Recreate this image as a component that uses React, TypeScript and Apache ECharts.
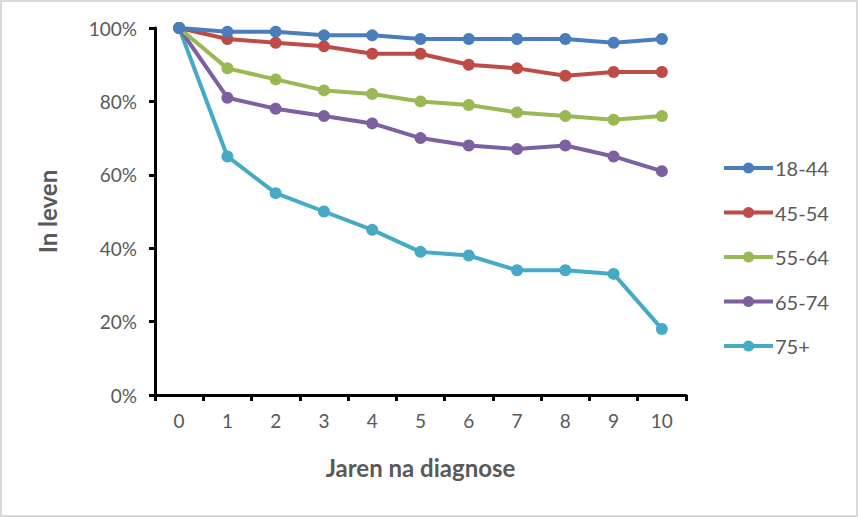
import React, { useEffect, useRef } from "react";
import * as echarts from "echarts";

const years = ["0", "1", "2", "3", "4", "5", "6", "7", "8", "9", "10"];
const seriesNames = ["18-44", "45-54", "55-64", "65-74", "75+"];
const s1844 = [100, 99, 99, 98, 98, 97, 97, 97, 97, 96, 97];
const s4554 = [100, 97, 96, 95, 93, 93, 90, 89, 87, 88, 88];
const s5564 = [100, 89, 86, 83, 82, 80, 79, 77, 76, 75, 76];
const s6574 = [100, 81, 78, 76, 74, 70, 68, 67, 68, 65, 61];
const s75 = [100, 65, 55, 50, 45, 39, 38, 34, 34, 33, 18];
const colors = ["#4A7EBB", "#BE4B48", "#98B954", "#7D60A0", "#46AAC5"];
const yTicks = [0, 20, 40, 60, 80, 100];

export default function App() {
  const ref = useRef<HTMLDivElement>(null);
  useEffect(() => {
    if (!ref.current) return;
    const chart = echarts.init(ref.current, undefined, { renderer: "svg" });
    const font = "Lato, 'Open Sans', sans-serif";
    const allData = [s1844, s4554, s5564, s6574, s75];
    chart.setOption({
      animation: false,
      backgroundColor: "#ffffff",
      textStyle: { fontFamily: font },
      graphic: [
        {
          type: "rect",
          shape: { x: 1, y: 1, width: 856, height: 515 },
          style: { fill: "none", stroke: "#d9d9d9", lineWidth: 2 },
          silent: true,
        },
      ],
      grid: { left: 155, top: 28, right: 172, bottom: 122 },
      legend: {
        orient: "vertical",
        left: 717,
        top: 153,
        itemWidth: 49,
        itemHeight: 14,
        itemGap: 24.5,
        lineStyle: { width: 4 },
        textStyle: { fontSize: 20, color: "#595959", fontFamily: font, padding: [0, 0, 0, -3] },
        data: seriesNames,
      },
      xAxis: {
        type: "category",
        data: years,
        boundaryGap: true,
        name: "Jaren na diagnose",
        nameLocation: "middle",
        nameGap: 60,
        nameTextStyle: { fontSize: 24, fontWeight: "bold", color: "#595959", fontFamily: font },
        axisLine: { lineStyle: { color: "#000000", width: 3 } },
        axisTick: { show: true, interval: 0, length: 6, lineStyle: { color: "#000000", width: 3 } },
        axisLabel: { fontSize: 19, color: "#595959", margin: 16, fontFamily: font },
        splitLine: { show: false },
      },
      yAxis: {
        type: "value",
        min: 0,
        max: 100,
        interval: 20,
        name: "In leven",
        nameLocation: "middle",
        nameRotate: 90,
        nameGap: 96,
        nameTextStyle: { fontSize: 24, fontWeight: "bold", color: "#595959", fontFamily: font },
        axisLine: { show: true, lineStyle: { color: "#000000", width: 3 } },
        axisTick: { show: true, length: 6, lineStyle: { color: "#000000", width: 3 } },
        axisLabel: {
          fontSize: 19,
          color: "#595959",
          margin: 18,
          fontFamily: font,
          formatter: (v: number) => (yTicks.includes(v) ? v + "%" : ""),
        },
        splitLine: { show: false },
      },
      series: seriesNames.map((name, i) => ({
        name,
        type: "line",
        data: allData[i],
        symbol: "circle",
        symbolSize: 12,
        color: colors[i],
        lineStyle: { width: 4, color: colors[i] },
        itemStyle: { color: colors[i] },
        z: 10 - i,
      })),
    });
    return () => chart.dispose();
  }, []);
  return (
    <div
      ref={ref}
      style={{ position: "fixed", left: 0, top: 0, width: 858, height: 517 }}
    />
  );
}
